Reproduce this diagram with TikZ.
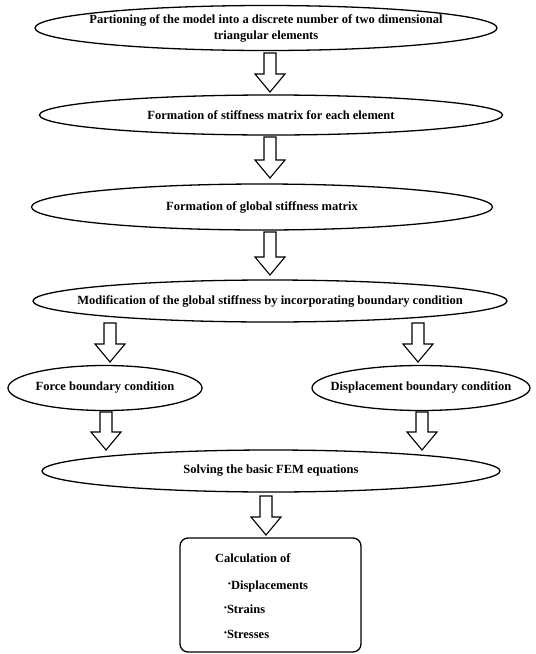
\documentclass[tikz,border=0pt]{standalone}
\usepackage{fontspec}
\setmainfont{Liberation Serif}
\usetikzlibrary{shapes.geometric,calc}
\tikzset{
  ell/.style={draw, line width=1.3pt, ellipse, inner sep=0pt},
  elltxt/.style={inner sep=0pt, align=center, font=\bfseries\fontsize{12.5}{16}\selectfont},
  blockarr/.style={draw, line width=1.1pt, fill=white, line join=miter},
  boxtxt/.style={anchor=west, inner sep=0pt, font=\bfseries\fontsize{12.5}{15}\selectfont},
  calcbox/.style={draw, line width=1.3pt, rounded corners=8pt, minimum width=181pt, minimum height=114pt, inner sep=0pt}
}
\newcommand\hollowarrow[2]{%
  \draw[blockarr] let \p1=(#1), \p2=(#2) in
   (\x1-6pt,\y1) -- (\x1-6pt,\y2+18pt) -- (\x1-15pt,\y2+18pt) -- (\x1,\y2)
   -- (\x1+15pt,\y2+18pt) -- (\x1+6pt,\y2+18pt) -- (\x1+6pt,\y1) -- cycle;}
\newcommand\smbul{\raisebox{0.5ex}{\fontsize{8}{8}\selectfont\textbullet}}
\begin{document}
\begin{tikzpicture}[x=1pt,y=-1pt]
\useasboundingbox (0,0) rectangle (536,654);
\node[ell, minimum width=462pt, minimum height=45pt] (e1) at (266,28) {};
\node[elltxt] (e1t) at (e1.center) {Partioning of the model into a discrete number of two dimensional\\triangular elements};
\node[ell, minimum width=463pt, minimum height=40pt] (e2) at (271,115) {};
\node[elltxt] (e2t) at (e2.center) {Formation of stiffness matrix for each element};
\node[ell, minimum width=461pt, minimum height=46pt] (e3) at (262,207) {};
\node[elltxt] (e3t) at (e3.center) {Formation of global stiffness matrix};
\node[ell, minimum width=474pt, minimum height=42pt] (e4) at (270,301) {};
\node[elltxt] (e4t) at (e4.center) {Modification of the global stiffness by incorporating boundary condition};
\node[ell, minimum width=194pt, minimum height=45pt] (e5a) at (105,388) {};
\node[elltxt] (e5at) at (e5a.center) {Force boundary condition};
\node[ell, minimum width=218pt, minimum height=45pt] (e5b) at (421,388) {};
\node[elltxt] (e5bt) at (e5b.center) {Displacement boundary condition};
\node[ell, minimum width=458pt, minimum height=42pt] (e6) at (271,471) {};
\node[elltxt] (e6t) at (e6.center) {Solving the basic FEM equations};
\node[calcbox] (box) at (270.5,595) {};
\node[boxtxt] (t0) at (215,558) {Calculation of};
\node[boxtxt] (t1) at (228,586) {\smbul Displacements};
\node[boxtxt] (t2) at (224,609) {\smbul Strains};
\node[boxtxt] (t3) at (224,634) {\smbul Stresses};
% arrow end points
\coordinate (a1s) at (270,53);  \coordinate (a1e) at (270,92);
\coordinate (a2s) at (270,137); \coordinate (a2e) at (270,178);
\coordinate (a3s) at (270,232); \coordinate (a3e) at (270,275);
\coordinate (a4s) at (110,323); \coordinate (a4e) at (110,362);
\coordinate (a5s) at (418,323); \coordinate (a5e) at (418,362);
\coordinate (a6s) at (106,412); \coordinate (a6e) at (106,450);
\coordinate (a7s) at (422,412); \coordinate (a7e) at (422,450);
\coordinate (a8s) at (266,496); \coordinate (a8e) at (266,535);
\hollowarrow{a1s}{a1e}
\hollowarrow{a2s}{a2e}
\hollowarrow{a3s}{a3e}
\hollowarrow{a4s}{a4e}
\hollowarrow{a5s}{a5e}
\hollowarrow{a6s}{a6e}
\hollowarrow{a7s}{a7e}
\hollowarrow{a8s}{a8e}
\end{tikzpicture}
\end{document}
